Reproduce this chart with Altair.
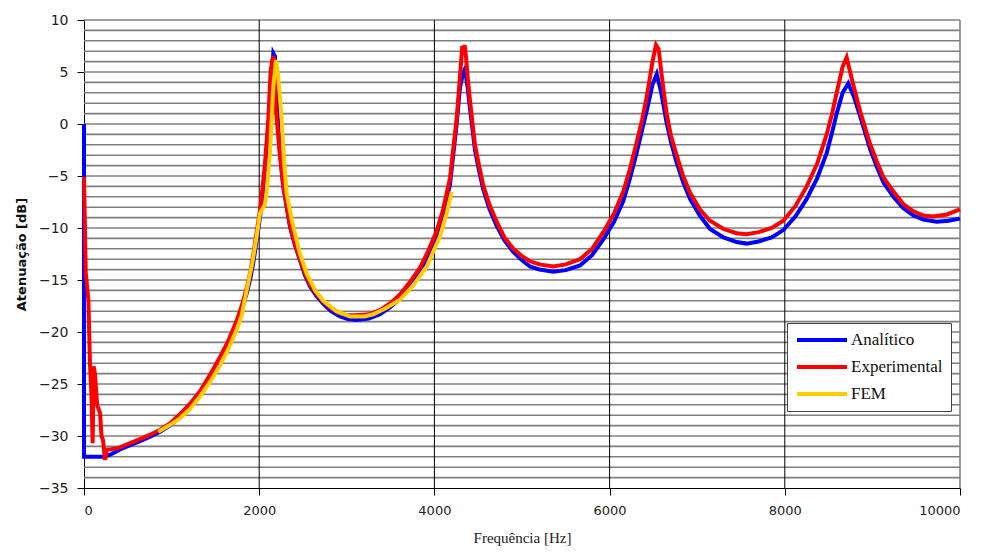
import altair as alt
import pandas as pd

# ---- data ----
ana_x = [0, 0, 230, 300, 411, 520, 639, 750, 868, 980, 1096, 1210, 1324, 1440, 1553, 1650, 1743, 1800,
         1857, 1900, 1933, 1970, 2009, 2040, 2066, 2104, 2142, 2161, 2180, 2199, 2237, 2275, 2352,
         2410, 2466, 2520, 2580, 2650, 2732, 2820, 2922, 3010, 3113, 3250, 3379, 3500, 3607, 3720,
         3836, 3930, 4026, 4100, 4178, 4254, 4292, 4330, 4349, 4380, 4406, 4463, 4510, 4558, 4630,
         4711, 4800, 4901, 5000, 5091, 5200, 5358, 5500, 5662, 5800, 5928, 6050, 6156, 6230, 6308,
         6370, 6422, 6490, 6538, 6590, 6651, 6700, 6765, 6840, 6918, 7030, 7146, 7300, 7450, 7565,
         7700, 7850, 7983, 8120, 8250, 8370, 8478, 8540, 8592, 8660, 8725, 8790, 8858, 8973, 9050,
         9125, 9240, 9353, 9470, 9581, 9733, 9870, 10000]
ana_y = [0, -32, -32, -31.8, -31.3, -30.9, -30.5, -30.1, -29.6, -29.0, -28.2, -27.2, -26, -24.5, -22.8,
         -21.2, -19.3, -17.9, -16.3, -14.8, -13.3, -11.3, -9, -6.8, -4.5, -0.5, 4.5, 6.8, 6.5, 2.6,
         -2.8, -6.0, -9.9, -11.7, -13.1, -14.5, -15.6, -16.5, -17.3, -18.0, -18.5, -18.75, -18.85,
         -18.7, -18.3, -17.6, -16.8, -15.6, -14.2, -12.7, -10.8, -8.7, -5.8, 0, 3.5, 5.0, 5.3, 3.5,
         1.5, -2.5, -4.5, -6.3, -8.2, -9.8, -11.2, -12.3, -13.1, -13.7, -14.0, -14.2, -14.05, -13.6,
         -12.6, -11.1, -9.4, -7.4, -5.3, -2.8, -0.6, 1.2, 3.8, 4.8, 3.0, 0.1, -1.7, -3.7, -5.6, -7.2,
         -8.8, -10.1, -10.9, -11.35, -11.5, -11.3, -10.9, -10.2, -8.9, -7.2, -5.2, -2.8, -0.8, 1.0,
         3.0, 3.9, 2.6, 0.8, -2.4, -4.1, -5.6, -7.0, -8.1, -8.8, -9.2, -9.4, -9.3, -9.1]

exp_x = [0, 20, 50, 68, 85, 99, 110, 125, 150, 183, 200, 217, 240, 260, 297, 411, 520, 639, 750, 868,
         980, 1096, 1210, 1324, 1440, 1553, 1650, 1743, 1800, 1857, 1900, 1933, 1970, 2009, 2040, 2066,
         2104, 2130, 2150, 2161, 2175, 2190, 2215, 2237, 2275, 2352, 2410, 2466, 2520, 2580, 2650,
         2732, 2820, 2922, 3010, 3113, 3250, 3379, 3500, 3607, 3720, 3836, 3930, 4026, 4100, 4178,
         4254, 4292, 4318, 4330, 4345, 4360, 4380, 4406, 4463, 4510, 4558, 4630, 4711, 4800, 4901,
         5000, 5091, 5200, 5358, 5500, 5662, 5800, 5928, 6050, 6156, 6230, 6308, 6370, 6422, 6490,
         6530, 6560, 6590, 6651, 6700, 6765, 6840, 6918, 7030, 7146, 7300, 7450, 7565, 7700, 7850,
         7983, 8120, 8250, 8370, 8478, 8540, 8592, 8660, 8706, 8760, 8858, 8973, 9050, 9125, 9240,
         9353, 9470, 9581, 9690, 9850, 10000]
exp_y = [-5.1, -14.3, -16.9, -23, -26, -30.7, -23.3, -24, -27, -27.8, -30, -30.4, -32.3, -31.3, -31.3,
         -31.1, -30.7, -30.3, -29.9, -29.4, -28.8, -27.9, -26.9, -25.7, -24.1, -22.4, -20.8, -18.9,
         -17.5, -15.8, -14.2, -12.5, -10.5, -8.3, -6.0, -3.8, 0.5, 5.0, 6.2, 6.5, 5.8, 1.5, -1, -3,
         -6.0, -9.8, -11.6, -13.0, -14.3, -15.4, -16.3, -17.1, -17.7, -18.2, -18.4, -18.4, -18.3,
         -17.9, -17.2, -16.4, -15.2, -13.8, -12.2, -10.3, -8.2, -5.2, 0.5, 4.6, 7.5, 6.6, 7.6, 6.5,
         4.5, 2.3, -2.0, -4.0, -5.9, -7.8, -9.4, -10.9, -12.0, -12.7, -13.2, -13.5, -13.7, -13.5,
         -13.0, -12.0, -10.4, -8.6, -6.5, -4.4, -1.8, 0.4, 2.5, 6.0, 7.6, 7.2, 5.0, 1.0, -1.1, -3.0,
         -5.0, -6.6, -8.2, -9.3, -10.1, -10.5, -10.6, -10.4, -10.0, -9.3, -7.9, -6.0, -3.8, -1.0,
         1.0, 3.0, 5.5, 6.4, 4.5, 1.3, -1.9, -3.6, -5.1, -6.5, -7.7, -8.4, -8.8, -8.9, -8.7, -8.2]

fem_x = [848, 970, 1096, 1210, 1324, 1440, 1553, 1650, 1743, 1800, 1857, 1920, 1971, 2009, 2066, 2085,
         2123, 2161, 2192, 2218, 2257, 2283, 2314, 2371, 2460, 2542, 2640, 2732, 2880, 3037, 3200,
         3303, 3450, 3607, 3760, 3912, 4064, 4140, 4197]
fem_y = [-29.6, -29.0, -28.3, -27.4, -26.2, -24.8, -23.2, -21.6, -19.8, -18.4, -16.0, -13.4, -10.8,
         -8.6, -7.7, -6.5, -2.8, 3.6, 6.15, 4.5, 0.4, -3.5, -6.7, -9.2, -12.3, -14.4, -16.0, -17.0,
         -18.0, -18.5, -18.5, -18.3, -17.7, -16.9, -15.5, -13.7, -10.8, -8.6, -6.5]

series_names = ["Analítico", "Experimental", "FEM"]
series_colors = ["#0000FF", "#FF0000", "#FFCC00"]
x_ticks = [0, 2000, 4000, 6000, 8000, 10000]
y_ticks = [-35, -30, -25, -20, -15, -10, -5, 0, 5, 10]
y_grid = list(range(-34, 11))

rows = []
for name, xs, ys in zip(series_names, [ana_x, exp_x, fem_x], [ana_y, exp_y, fem_y]):
    for i, (xv, yv) in enumerate(zip(xs, ys)):
        rows.append({"serie": name, "f": xv, "db": yv, "idx": i})
df = pd.DataFrame(rows)

xscale = alt.Scale(domain=[0, 10000], nice=False, zero=False)
yscale = alt.Scale(domain=[-35, 10], nice=False, zero=False)

x_axis = alt.Axis(values=x_ticks, title="Frequência [Hz]", grid=False, format="d",
                  labelFont="DejaVu Sans", labelFontSize=13, labelColor="#222",
                  titleFont="Liberation Serif", titleFontSize=15, titleFontWeight="normal",
                  titleColor="#222", titlePadding=13, labelPadding=9,
                  domainColor="#000", tickColor="#000", tickSize=7)
y_axis = alt.Axis(values=y_ticks, title="Atenuação [dB]", grid=False,
                  labelExpr="replace(datum.label, '-', '\u2212')",
                  labelFont="DejaVu Sans", labelFontSize=14, labelColor="#222",
                  titleFont="DejaVu Sans", titleFontSize=13, titleFontWeight="bold",
                  titleColor="#111", titlePadding=10, labelPadding=9,
                  domainColor="#000", tickColor="#000", tickSize=7)

hgrid = alt.Chart(pd.DataFrame({"db": y_grid})).mark_rule(color="#7f7f7f", strokeWidth=1.6).encode(
    y=alt.Y("db:Q", scale=yscale, axis=y_axis)
)
vgrid = alt.Chart(pd.DataFrame({"f": x_ticks[1:-1]})).mark_rule(color="#000000", strokeWidth=1).encode(
    x=alt.X("f:Q", scale=xscale, axis=x_axis)
)
rborder = alt.Chart(pd.DataFrame({"f": x_ticks[-1:]})).mark_rule(color="#7f7f7f", strokeWidth=1.6).encode(
    x=alt.X("f:Q", scale=xscale, axis=x_axis)
)

lines = alt.Chart(df).mark_line(strokeWidth=4).encode(
    x=alt.X("f:Q", scale=xscale, axis=x_axis),
    y=alt.Y("db:Q", scale=yscale, axis=y_axis),
    color=alt.Color("serie:N", scale=alt.Scale(domain=series_names, range=series_colors),
                    legend=alt.Legend(title=None, orient="none", legendX=703, legendY=303,
                                      symbolType="stroke", symbolSize=2500, symbolStrokeWidth=4,
                                      labelFont="Liberation Serif", labelFontSize=17, labelColor="#111",
                                      strokeColor="#444", fillColor="white", padding=8,
                                      rowPadding=9, clipHeight=18, labelOffset=2)),
    order=alt.Order("idx:Q"),
)

chart = alt.layer(hgrid, vgrid, rborder, lines).properties(
    width=876, height=468,
    autosize=alt.AutoSizeParams(type="none"),
    padding={"left": 76, "top": 12, "right": 10, "bottom": 58},
).configure_view(stroke=None)

chart.save("out.html", embed_options={"renderer": "svg", "actions": False})
